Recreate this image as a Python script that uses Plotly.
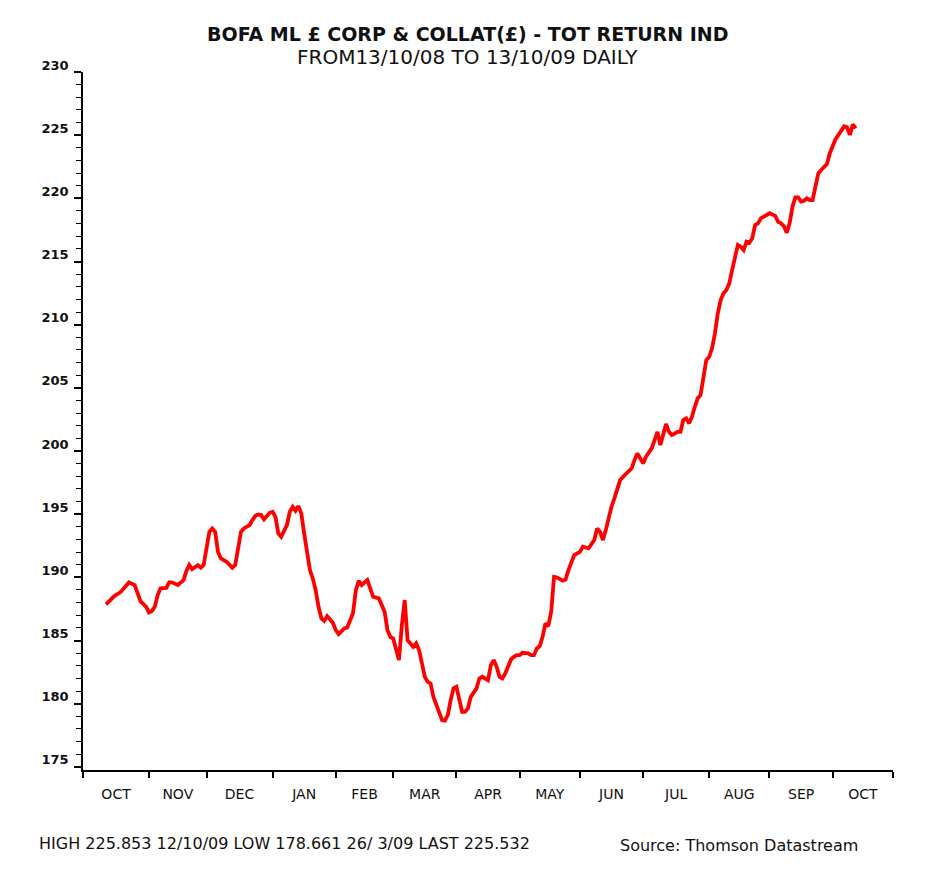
import pandas as pd
import plotly.graph_objects as go

# ---- data ----
# trading-day offset from 13 Oct 2008 (weekdays) and index level
day_offset = [0, 1, 3, 5, 7, 8, 10, 11, 12, 14, 15, 16, 17, 18, 19, 21, 22, 23, 25, 27,
              28, 29, 30, 32, 33, 34, 35, 36, 37, 38, 39, 40, 42, 44, 45, 46, 47, 48, 50, 51,
              52, 53, 54, 55, 57, 58, 59, 60, 61, 63, 64, 65, 66, 67, 68, 69, 70, 71, 72, 73,
              74, 75, 76, 77, 79, 80, 81, 83, 84, 86, 87, 88, 89, 90, 91, 92, 93, 95, 96, 97,
              98, 99, 100, 101, 102, 103, 104, 105, 106, 107, 108, 109, 110, 111, 112, 113, 114, 116, 117, 118,
              119, 120, 121, 122, 123, 124, 125, 126, 127, 128, 129, 130, 131, 133, 134, 135, 136, 137, 138, 139,
              140, 141, 142, 143, 144, 145, 147, 148, 149, 150, 151, 152, 153, 154, 155, 156, 157, 159, 160, 161,
              163, 165, 166, 168, 170, 171, 172, 173, 174, 175, 176, 177, 178, 179, 180, 182, 183, 184, 185, 186,
              187, 188, 190, 191, 192, 193, 194, 195, 196, 197, 199, 200, 201, 202, 203, 204, 205, 206, 207, 208,
              209, 210, 211, 212, 213, 214, 215, 216, 217, 218, 219, 220, 221, 222, 223, 224, 225, 226, 227, 228,
              230, 231, 233, 234, 235, 236, 237, 238, 239, 240, 241, 242, 243, 244, 245, 246, 247, 248, 249, 251,
              252, 253, 254, 255, 256, 257, 258, 259, 260, 261]
index_level = [187.86, 188.12, 188.54, 188.81, 189.39, 189.60, 189.39, 188.73, 188.12, 187.67, 187.22, 187.33, 187.67, 188.60, 189.13, 189.17, 189.60, 189.60, 189.39, 189.78,
               190.50, 190.97, 190.65, 190.97, 190.76, 190.97, 192.29, 193.61, 193.87, 193.61, 192.02, 191.50, 191.23, 190.76, 190.97, 192.29, 193.61, 193.87, 194.14, 194.53,
               194.87, 194.98, 194.93, 194.59, 195.11, 195.19, 194.79, 193.48, 193.21, 194.14, 195.19, 195.59, 195.27, 195.64, 195.06, 193.48, 192.16, 190.57, 189.91, 188.99,
               187.67, 186.75, 186.56, 186.93, 186.40, 185.82, 185.51, 185.96, 186.04, 187.15, 188.99, 189.73, 189.39, 189.57, 189.78, 189.13, 188.46, 188.33, 187.80, 187.27,
               185.82, 185.29, 185.16, 184.24, 183.45, 186.20, 188.20, 185.03, 184.77, 184.50, 184.77, 184.24, 183.19, 182.13, 181.73, 181.60, 180.54, 179.23, 178.70, 178.66,
               179.09, 180.28, 181.21, 181.33, 180.28, 179.35, 179.35, 179.62, 180.54, 180.94, 181.21, 182.00, 182.13, 181.86, 183.05, 183.45, 182.92, 182.13, 182.00, 182.39,
               183.05, 183.50, 183.71, 183.84, 183.84, 184.03, 183.98, 183.84, 183.84, 184.37, 184.56, 185.29, 186.35, 186.14, 187.27, 190.04, 189.99, 189.73, 189.83, 190.57,
               191.77, 192.02, 192.42, 192.29, 192.95, 193.87, 193.61, 192.95, 193.74, 194.79, 195.59, 196.25, 196.91, 197.70, 197.96, 198.36, 198.63, 199.28, 199.81, 199.42,
               199.02, 199.55, 200.21, 200.87, 201.52, 200.47, 201.40, 202.14, 201.52, 201.26, 201.52, 201.52, 202.45, 202.58, 202.19, 202.71, 203.50, 204.17, 204.43, 205.90,
               207.20, 207.46, 208.13, 209.30, 210.90, 211.95, 212.48, 212.75, 213.27, 214.33, 215.38, 216.31, 216.17, 215.91, 216.57, 216.49, 216.84, 217.89, 218.02, 218.42,
               218.68, 218.82, 218.61, 218.15, 218.02, 217.81, 217.28, 218.02, 219.34, 220.08, 220.08, 219.74, 219.81, 220.00, 219.87, 219.87, 220.92, 221.98, 222.25, 222.72,
               223.57, 224.23, 224.68, 225.02, 225.36, 225.70, 225.63, 225.02, 225.85, 225.53]

month_labels = ["OCT", "NOV", "DEC", "JAN", "FEB", "MAR", "APR", "MAY",
                "JUN", "JUL", "AUG", "SEP", "OCT"]
y_ticks = [175, 180, 185, 190, 195, 200, 205, 210, 215, 220, 225, 230]

title_line1 = "BOFA ML £ CORP & COLLAT(£) - TOT RETURN IND"
title_line2 = "FROM13/10/08 TO 13/10/09 DAILY"
footer_left = "HIGH 225.853 12/10/09 LOW 178.661 26/ 3/09 LAST 225.532"
footer_right = "Source: Thomson Datastream"

# ---- weekday calendar for the axis (Datastream plots weekdays) ----
calendar = pd.bdate_range("2008-10-01", "2009-10-30")
pos = {d: i for i, d in enumerate(calendar)}
series_days = pd.bdate_range("2008-10-13", periods=262)
x_vals = [pos[series_days[k]] for k in day_offset]

month_starts = []
for i, d in enumerate(calendar):
    if i == 0 or d.month != calendar[i - 1].month:
        month_starts.append(i)
bounds = month_starts + [len(calendar) - 1]
mid_month = [(bounds[k] + bounds[k + 1]) / 2 for k in range(len(month_starts))]

FONT = "DejaVu Sans"

fig = go.Figure()
fig.add_trace(go.Scatter(
    x=x_vals, y=index_level, mode="lines",
    line=dict(color="#ff0000", width=3.8),
    hoverinfo="skip", showlegend=False,
))

# the page body adds an 8px offset, so the figure is sized 931x874
fig.update_layout(
    width=931, height=874,
    margin=dict(l=75, r=46, t=64, b=112),
    paper_bgcolor="white", plot_bgcolor="white",
    font=dict(family=FONT, color="black"),
    xaxis=dict(
        range=[0, len(calendar) - 1], automargin=False,
        tickmode="array", tickvals=mid_month, ticktext=month_labels,
        ticks="outside", ticklen=0, tickcolor="black",
        ticklabelstandoff=10,
        minor=dict(tickmode="array", tickvals=bounds, ticks="outside",
                   ticklen=6, tickwidth=1.5, tickcolor="black", showgrid=False),
        showline=True, linecolor="black", linewidth=1.5,
        showgrid=False, zeroline=False,
        tickfont=dict(family=FONT, size=14, color="#111"),
    ),
    yaxis=dict(
        range=[174.75, 230], automargin=False,
        tickmode="array", tickvals=y_ticks,
        ticks="outside", ticklen=7, tickwidth=1.5, tickcolor="black",
        ticklabelshift=-7, ticklabelstandoff=3,
        minor=dict(dtick=1, tick0=175, ticks="outside", ticklen=5,
                   tickwidth=1, tickcolor="black", showgrid=False),
        showline=True, linecolor="black", linewidth=1.5,
        showgrid=False, zeroline=False,
        tickfont=dict(family=FONT, size=13, color="#111", weight="bold"),
    ),
)

fig.add_annotation(text="<b>" + title_line1 + "</b>", xref="paper", yref="paper",
                   x=0.475, y=1, yshift=38, showarrow=False, xanchor="center", yanchor="middle",
                   font=dict(family=FONT, size=19, color="#111"))
fig.add_annotation(text=title_line2, xref="paper", yref="paper",
                   x=0.475, y=1, yshift=15, showarrow=False, xanchor="center", yanchor="middle",
                   font=dict(family=FONT, size=20, color="#111"))
fig.add_annotation(text=footer_left, xref="paper", yref="paper",
                   x=0, xshift=-46, y=0, yshift=-73, showarrow=False, xanchor="left", yanchor="middle",
                   font=dict(family=FONT, size=16, color="#111"))
fig.add_annotation(text=footer_right, xref="paper", yref="paper",
                   x=1, xshift=-33, y=0, yshift=-75, showarrow=False, xanchor="right", yanchor="middle",
                   font=dict(family=FONT, size=16, color="#111"))

fig.write_html("out.html")
